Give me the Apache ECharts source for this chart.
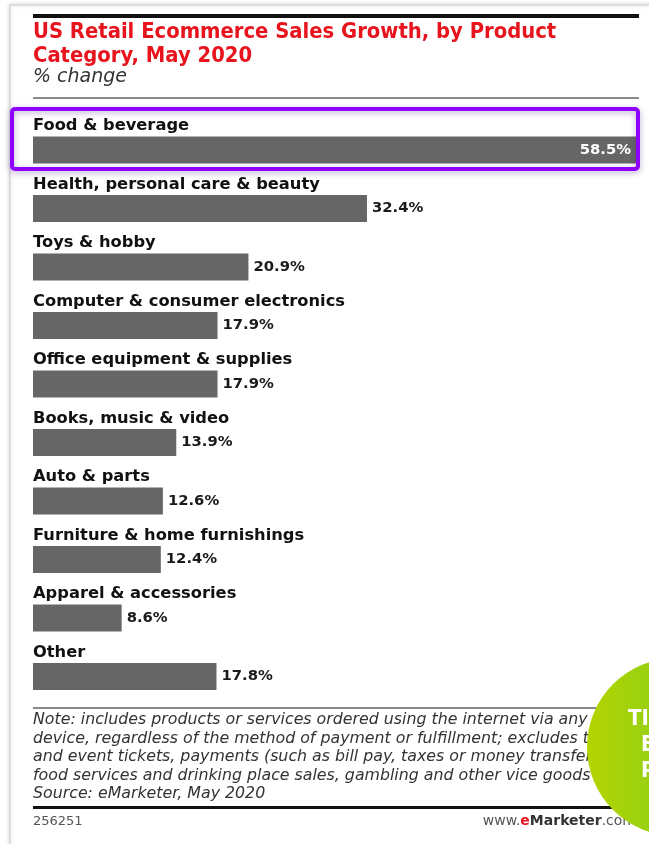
<!DOCTYPE html>
<html>
<head>
<meta charset="utf-8">
<script src="https://cdn.jsdelivr.net/npm/echarts@6/dist/echarts.min.js"></script>
<style>
  html, body { margin: 0; padding: 0; background: #ffffff; }
  #chart { width: 649px; height: 844px; }
</style>
</head>
<body>
<div id="chart"></div>
<script>
// Product categories, top to bottom
const categories = [
  'Food & beverage',
  'Health, personal care & beauty',
  'Toys & hobby',
  'Computer & consumer electronics',
  'Office equipment & supplies',
  'Books, music & video',
  'Auto & parts',
  'Furniture & home furnishings',
  'Apparel & accessories',
  'Other'
];
// % change in retail ecommerce sales, May 2020
const growth = [58.5, 32.4, 20.9, 17.9, 17.9, 13.9, 12.6, 12.4, 8.6, 17.8];

const titleLines = ['US Retail Ecommerce Sales Growth, by Product', 'Category, May 2020'];
const subtitle = '% change';
const noteLines = [
  'Note: includes products or services ordered using the internet via any',
  'device, regardless of the method of payment or fulfillment; excludes travel',
  'and event tickets, payments (such as bill pay, taxes or money transfers),',
  'food services and drinking place sales, gambling and other vice goods sales',
  'Source: eMarketer, May 2020'
];
const chartId = '256251';
const badgeLines = ['TI', 'E', 'P'];

const COND_FONT = '"DejaVu Sans Condensed", "DejaVu Sans", sans-serif';
const WIDE_FONT = '"DejaVu Sans", sans-serif';

const barData = growth.map(function (v, i) {
  if (i === 0) {
    return {
      value: v,
      label: { position: 'insideRight', color: '#ffffff', distance: 5 }
    };
  }
  return { value: v };
});

const chart = echarts.init(document.getElementById('chart'), null, { renderer: 'canvas' });

const graphics = [
  // card outline
  { type: 'rect', z: -10, shape: { x: 10, y: 5, width: 660, height: 860 },
    style: { fill: '#ffffff', stroke: '#d8d8d8', lineWidth: 1.5,
             shadowBlur: 4, shadowColor: 'rgba(0,0,0,0.15)' } },
  // top rule
  { type: 'rect', shape: { x: 33, y: 14, width: 606, height: 4 }, style: { fill: '#111111' } },
  // title
  { type: 'text', left: 33, top: 21,
    style: { text: titleLines.join('\n'), fill: '#e8141d', font: 'bold 21.8px ' + COND_FONT, lineHeight: 23.5 } },
  { type: 'text', left: 33, top: 68,
    style: { text: subtitle, fill: '#333333', font: 'italic 19px ' + WIDE_FONT } },
  // rule under subtitle
  { type: 'rect', shape: { x: 33, y: 97, width: 606, height: 2 }, style: { fill: '#8a8a8a' } },
  // highlight box around the top category
  { type: 'rect', z: 20, shape: { x: 12, y: 109, width: 626, height: 60, r: 3 },
    style: { fill: 'none', stroke: '#8f00ff', lineWidth: 4,
             shadowBlur: 6, shadowColor: 'rgba(60,0,120,0.35)', shadowOffsetY: 2 } },
  // rule above notes
  { type: 'rect', shape: { x: 33, y: 707, width: 606, height: 2 }, style: { fill: '#8a8a8a' } },
  { type: 'text', left: 33, top: 711,
    style: { text: noteLines.join('\n'), fill: '#333333', font: 'italic 15.8px ' + WIDE_FONT, lineHeight: 18.5 } },
  // bottom rule
  { type: 'rect', shape: { x: 33, y: 806, width: 606, height: 3 }, style: { fill: '#111111' } },
  { type: 'text', left: 33, top: 815,
    style: { text: chartId, fill: '#555555', font: '13px ' + WIDE_FONT } },
  { type: 'text', right: 13, top: 814,
    style: {
      text: '{a|www.}{b|e}{c|Marketer}{a|.com}',
      rich: {
        a: { fill: '#555555', font: '14px ' + WIDE_FONT },
        b: { fill: '#e8141d', font: 'bold 14px ' + WIDE_FONT },
        c: { fill: '#333333', font: 'bold 14px ' + WIDE_FONT }
      }
    } },
  // green badge
  { type: 'circle', z: 30, shape: { cx: 676, cy: 747, r: 89 },
    style: {
      fill: new echarts.graphic.LinearGradient(0, 0, 1, 0, [
        { offset: 0, color: '#b4d400' },
        { offset: 1, color: '#66cc33' }
      ])
    } },
  { type: 'text', z: 31, x: 628, y: 708,
    style: { text: badgeLines[0], fill: '#ffffff', font: 'bold 22px ' + COND_FONT } },
  { type: 'text', z: 31, x: 641, y: 734,
    style: { text: badgeLines[1], fill: '#ffffff', font: 'bold 22px ' + COND_FONT } },
  { type: 'text', z: 31, x: 641, y: 760,
    style: { text: badgeLines[2], fill: '#ffffff', font: 'bold 22px ' + COND_FONT } }
];

chart.setOption({
  animation: false,
  backgroundColor: '#ffffff',
  grid: { left: 33, right: 13, top: 120.75, height: 585, containLabel: false },
  xAxis: {
    type: 'value', min: 0, max: 58.5,
    show: false
  },
  yAxis: {
    type: 'category',
    data: categories,
    inverse: true,
    axisLine: { show: false },
    axisTick: { show: false },
    splitLine: { show: false },
    axisLabel: {
      inside: true,
      margin: 0,
      align: 'left',
      verticalAlign: 'bottom',
      padding: [0, 0, 16, 0],
      color: '#111111',
      fontFamily: WIDE_FONT,
      fontWeight: 'bold',
      fontSize: 16.3
    },
    z: 5
  },
  series: [{
    type: 'bar',
    data: barData,
    barWidth: 27,
    itemStyle: { color: '#666666' },
    label: {
      show: true,
      position: 'right',
      distance: 5,
      color: '#1a1a1a',
      fontFamily: WIDE_FONT,
      fontWeight: 'bold',
      fontSize: 14.8,
      formatter: function (p) { return p.value.toFixed(1) + '%'; }
    }
  }],
  graphic: graphics
});
</script>
</body>
</html>
